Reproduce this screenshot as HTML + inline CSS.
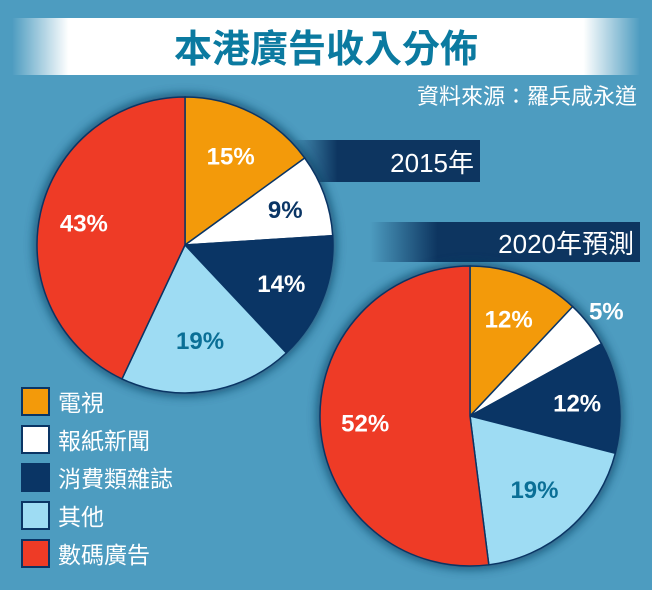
<!DOCTYPE html>
<html><head><meta charset="utf-8"><style>
body{margin:0;width:652px;height:585px;overflow:hidden;background:#4d9cc0;font-family:"Liberation Sans","Noto Sans CJK TC",sans-serif}
</style></head><body>
<svg width="652" height="585" viewBox="0 0 652 585" xmlns="http://www.w3.org/2000/svg">
<defs>
<linearGradient id="tg" x1="0" x2="1" y1="0" y2="0">
<stop offset="0" stop-color="#fff" stop-opacity="0"/><stop offset="0.09" stop-color="#fff"/><stop offset="0.91" stop-color="#fff"/><stop offset="1" stop-color="#fff" stop-opacity="0"/></linearGradient>
<linearGradient id="bg1" x1="0" x2="1"><stop offset="0" stop-color="#0d3560" stop-opacity="0"/><stop offset="0.25" stop-color="#0d3560"/><stop offset="1" stop-color="#0d3560"/></linearGradient>
<filter id="blur" x="-20%" y="-20%" width="140%" height="140%"><feGaussianBlur stdDeviation="5"/></filter>
</defs>
<rect x="12" y="18" width="628" height="57" fill="url(#tg)"/>
<text x="326" y="62" text-anchor="middle" font-size="38" font-weight="bold" fill="#0b7aa0">本港廣告收入分佈</text>
<text x="637" y="104" text-anchor="end" font-size="22" fill="#fff">資料來源：羅兵咸永道</text>
<rect x="290" y="140" width="190" height="42" fill="url(#bg1)"/>
<text x="474" y="172" text-anchor="end" font-size="26" fill="#fff">2015年</text>
<rect x="370" y="222" width="270" height="40" fill="url(#bg1)"/>
<text x="634" y="253" text-anchor="end" font-size="26" fill="#fff">2020年預測</text>
<g id="pies"></g>
<g id="legend"></g>
</svg>
<script>
const categories=["電視","報紙新聞","消費類雜誌","其他","數碼廣告"];
const colors=["#f39a0a","#ffffff","#0a3565","#9edcf3","#ee3b26"];
const labelColors=["#fff","#0a3565","#fff","#0a6f96","#fff"];
const values2015=[15,9,14,19,43];
const values2020=[12,5,12,19,52];
const NS="http://www.w3.org/2000/svg";
const pies=document.getElementById('pies');
function drawPie(vals,cx,cy,r,name,lblOut){
  const sh=document.createElementNS(NS,'circle');
  sh.setAttribute('cx',cx);sh.setAttribute('cy',cy);sh.setAttribute('r',r+3);
  sh.setAttribute('fill','#0b3d5e');sh.setAttribute('opacity','0.75');sh.setAttribute('filter','url(#blur)');
  
  
  pies.appendChild(sh);
  const g=document.createElementNS(NS,'g');
  
  
  pies.appendChild(g);
  const tot=vals.reduce((a,b)=>a+b,0);let a0=0;
  const lg=document.createElementNS(NS,'g');pies.appendChild(lg);
  vals.forEach((v,i)=>{
    const a1=a0+v/tot*2*Math.PI;
    const x0=cx+r*Math.sin(a0),y0=cy-r*Math.cos(a0),x1=cx+r*Math.sin(a1),y1=cy-r*Math.cos(a1);
    const p=document.createElementNS(NS,'path');
    p.setAttribute('d',`M${cx},${cy}L${x0},${y0}A${r},${r} 0 ${a1-a0>Math.PI?1:0} 1 ${x1},${y1}Z`);
    p.setAttribute('fill',colors[i]);p.setAttribute('stroke','#0a3565');p.setAttribute('stroke-width','1.5');
    
    
    g.appendChild(p);
    const m=(a0+a1)/2;const rr=(lblOut&&lblOut[i])?r*lblOut[i]:r*0.62;
    const t=document.createElementNS(NS,'text');
    t.setAttribute('x',cx+rr*Math.sin(m));t.setAttribute('y',cy-rr*Math.cos(m)+9);
    t.setAttribute('text-anchor','middle');t.setAttribute('font-size','24');t.setAttribute('font-weight','bold');
    t.setAttribute('fill',(lblOut&&lblOut[i]>1)?'#fff':labelColors[i]);
    t.textContent=v+'%';
    
    
    lg.appendChild(t);
    a0=a1;
  });
}
drawPie(values2015,185,245,148,'pie-2015',[0.68,0.72,0.7,0.65,0.7]);
drawPie(values2020,470,416,150,'pie-2020',[0.7,1.15,0.72,0.65,0.7]);
const leg=document.getElementById('legend');
categories.forEach((c,i)=>{
  const y=388+i*38;
  const r=document.createElementNS(NS,'rect');
  r.setAttribute('x',22);r.setAttribute('y',y);r.setAttribute('width',27);r.setAttribute('height',27);
  r.setAttribute('fill',colors[i]);r.setAttribute('stroke','#0a3565');r.setAttribute('stroke-width','2');
  
  
  leg.appendChild(r);
  const t=document.createElementNS(NS,'text');
  t.setAttribute('x',58);t.setAttribute('y',y+23);t.setAttribute('font-size','23');t.setAttribute('fill','#fff');
  t.textContent=c;
  
  
  leg.appendChild(t);
});
</script>
</body></html>
